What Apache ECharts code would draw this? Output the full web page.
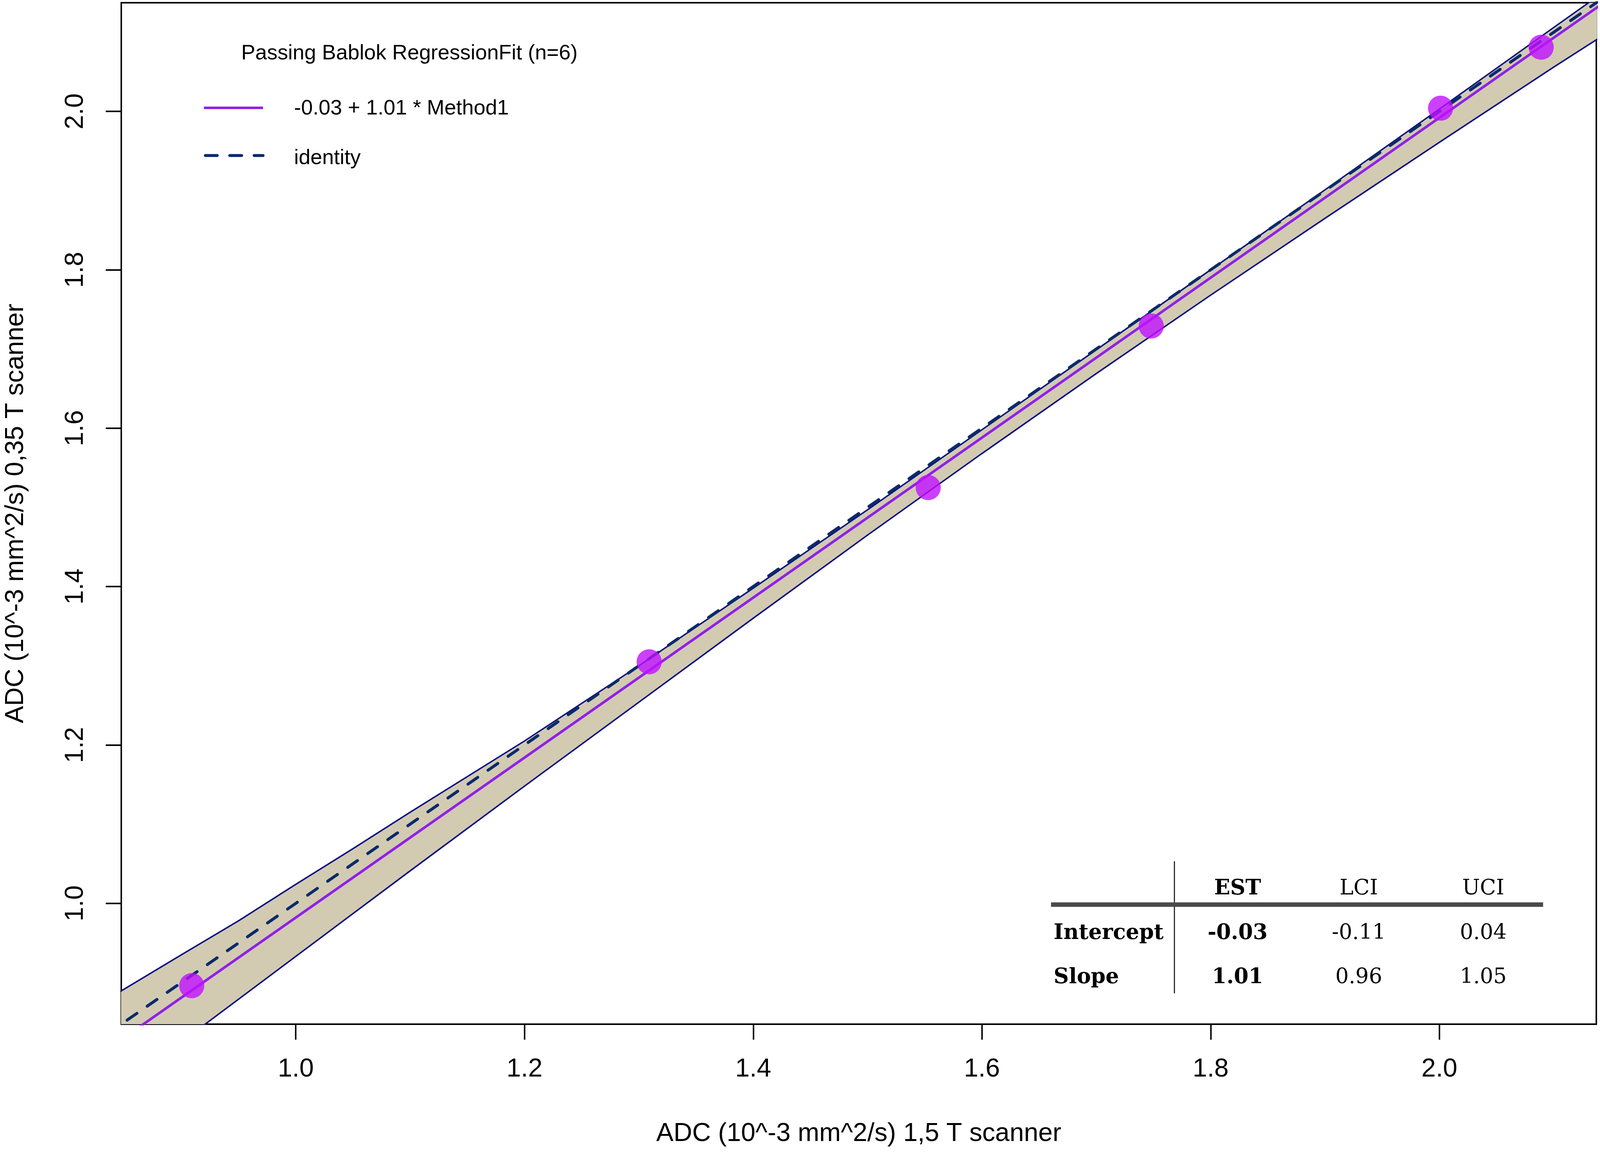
<!DOCTYPE html>
<html>
<head>
<meta charset="utf-8">
<script src="https://cdn.jsdelivr.net/npm/echarts@6/dist/echarts.min.js"></script>
<style>
html, body { margin:0; padding:0; background:#fff; overflow:hidden; }
#chart { position:absolute; left:0; top:0; }
</style>
</head>
<body>
<div id="chart"></div>
<script>
// ---------- data ----------
const pointsX = [0.909, 1.309, 1.553, 1.748, 2.001, 2.089];
const pointsY = [0.896, 1.305, 1.525, 1.729, 2.004, 2.081];

// fitted Passing-Bablok line (read end points)
const fitX = [0.80, 2.20];
const fitY = [0.780, 2.194];

// identity line end points
const identityX = [0.80, 2.20];
const identityY = [0.80, 2.20];

// confidence band
const bandX     = [0.84, 0.90, 0.95, 1.00, 1.05, 1.10, 1.20, 1.30, 1.40, 1.50, 1.60, 1.70, 1.80, 1.90, 2.00, 2.10, 2.14];
const bandUpper = [0.883, 0.935, 0.978, 1.024, 1.069, 1.115, 1.205, 1.300, 1.398, 1.497, 1.598, 1.699, 1.800, 1.901, 2.003, 2.106, 2.147];
const bandLower = [0.759, 0.825, 0.879, 0.933, 0.987, 1.041, 1.148, 1.254, 1.360, 1.465, 1.568, 1.669, 1.768, 1.865, 1.961, 2.056, 2.093];

const axisRange = [0.8474, 2.1372];
const tickValues = [1.0, 1.2, 1.4, 1.6, 1.8, 2.0];
const tickLabels = ['1.0', '1.2', '1.4', '1.6', '1.8', '2.0'];

const xTitle = 'ADC (10^-3 mm^2/s) 1,5 T scanner';
const yTitle = 'ADC (10^-3 mm^2/s) 0,35 T scanner';

const legendTitle = 'Passing Bablok RegressionFit (n=6)';
const legendFit = '-0.03 + 1.01 * Method1';
const legendIdentity = 'identity';

const tableCols = ['EST', 'LCI', 'UCI'];
const tableRowNames = ['Intercept', 'Slope'];
const interceptVals = ['-0.03', '-0.11', '0.04'];
const slopeVals = ['1.01', '0.96', '1.05'];

// ---------- layout scale (design space 4331 x 2966) ----------
const W = window.innerWidth || 4331;
const H = window.innerHeight || 2966;
const sx = W / 4331, sy = H / 2966, s = Math.min(sx, sy);
const X = v => v * sx, Y = v => v * sy, S = v => v * s;

const SANS = '"Liberation Sans", Arial, Helvetica, sans-serif';
const SERIF = '"DejaVu Serif", "Liberation Serif", serif';
const PURPLE = '#9020e8';
const NAVY = '#0b2a6b';
const BANDLINE = '#0a0f80';
const BANDFILL = '#d2cbb2';

const dom = document.getElementById('chart');
dom.style.width = W + 'px';
dom.style.height = H + 'px';
const chart = echarts.init(dom, null, {renderer:'canvas', width:W, height:H});

function labelFor(v) {
  const i = tickValues.findIndex(t => Math.abs(t - v) < 1e-9);
  return i >= 0 ? tickLabels[i] : '';
}

function axisCommon(name, gap, rotate) {
  return {
    type: 'value',
    min: axisRange[0],
    max: axisRange[1],
    name: name,
    nameLocation: 'middle',
    nameGap: gap,
    nameTextStyle: { fontSize: S(70), fontFamily: SANS, color: '#000' },
    splitLine: { show: false },
    axisLine: { show: false, onZero: false },
    axisTick: { show: true, inside: false, length: S(42), customValues: tickValues,
                lineStyle: { color: '#000', width: S(4) } },
    axisLabel: { show: true, customValues: tickValues, formatter: labelFor, rotate: rotate,
                 fontSize: S(70), fontFamily: SANS, color: '#000', margin: S(88) }
  };
}

function txt(text, x, y, font, align) {
  return { type:'text', z:100, style:{ text:text, x:X(x), y:Y(y), font:font, fill:'#000', textAlign:align, textVerticalAlign:'middle' } };
}

const graphics = [];
// legend
const legFont = S(57) + 'px ' + SANS;
graphics.push(txt(legendTitle, 653, 137, legFont, 'left'));
graphics.push({ type:'line', z:100, shape:{ x1:X(552), y1:Y(276), x2:X(712), y2:Y(276) }, style:{ stroke:PURPLE, lineWidth:S(7) } });
graphics.push(txt(legendFit, 796, 278, legFont, 'left'));
graphics.push({ type:'line', z:100, shape:{ x1:X(556), y1:Y(398), x2:X(712), y2:Y(398) }, style:{ stroke:NAVY, lineWidth:S(8), lineDash:[S(32), S(34)], lineCap:'round' } });
graphics.push(txt(legendIdentity, 796, 405, legFont, 'left'));

// table
const colX = [3350, 3678, 4015];
const headY = 2275;
const rowY = [2389, 2502];
const fReg = S(57) + 'px ' + SERIF, fBold = 'bold ' + S(57) + 'px ' + SERIF;
graphics.push({ type:'line', z:100, shape:{ x1:X(3179), y1:Y(2204), x2:X(3179), y2:Y(2542) }, style:{ stroke:'#222', lineWidth:S(3) } });
graphics.push({ type:'line', z:100, shape:{ x1:X(2845), y1:Y(2315), x2:X(4177), y2:Y(2315) }, style:{ stroke:'#4a4a4a', lineWidth:S(12) } });
tableCols.forEach((c, i) => graphics.push(txt(c, colX[i], headY, i === 0 ? fBold : fReg, 'center')));
const rowVals = [interceptVals, slopeVals];
tableRowNames.forEach((r, j) => {
  graphics.push(txt(r, 2852, rowY[j], fBold, 'left'));
  rowVals[j].forEach((v, i) => graphics.push(txt(v, colX[i], rowY[j], i === 0 ? fBold : fReg, 'center')));
});

const option = {
  backgroundColor: '#fff',
  animation: false,
  grid: { left: X(326), top: Y(7), right: X(10), bottom: Y(345), show: true, borderColor: '#000', borderWidth: S(4), backgroundColor: 'transparent', containLabel: false },
  xAxis: axisCommon(xTitle, S(262), 0),
  yAxis: axisCommon(yTitle, S(250), 90),
  graphic: graphics,
  series: [
    {
      type: 'custom', clip: true, z: 1, silent: true,
      data: [[1.5, 1.5]],
      renderItem: function (params, api) {
        const pts = [];
        for (let i = 0; i < bandX.length; i++) pts.push(api.coord([bandX[i], bandUpper[i]]));
        for (let i = bandX.length - 1; i >= 0; i--) pts.push(api.coord([bandX[i], bandLower[i]]));
        return { type: 'polygon', shape: { points: pts }, style: { fill: BANDFILL, stroke: null } };
      }
    },
    {
      type: 'line', z: 2, symbol: 'none', clip: true, silent: true,
      data: bandX.map((x, i) => [x, bandUpper[i]]),
      lineStyle: { color: BANDLINE, width: S(4) }
    },
    {
      type: 'line', z: 2, symbol: 'none', clip: true, silent: true,
      data: bandX.map((x, i) => [x, bandLower[i]]),
      lineStyle: { color: BANDLINE, width: S(4) }
    },
    {
      type: 'line', z: 3, symbol: 'none', clip: true, silent: true,
      data: identityX.map((x, i) => [x, identityY[i]]),
      lineStyle: { color: NAVY, width: S(8), type: [S(32), S(34)], cap: 'round' }
    },
    {
      type: 'line', z: 4, symbol: 'none', clip: true, silent: true,
      data: fitX.map((x, i) => [x, fitY[i]]),
      lineStyle: { color: PURPLE, width: S(7) }
    },
    {
      type: 'scatter', z: 5, clip: true, silent: true,
      symbol: 'circle', symbolSize: S(68),
      data: pointsX.map((x, i) => [x, pointsY[i]]),
      itemStyle: { color: '#c010ff', opacity: 0.8 }
    }
  ]
};
chart.setOption(option);
</script>
</body>
</html>
